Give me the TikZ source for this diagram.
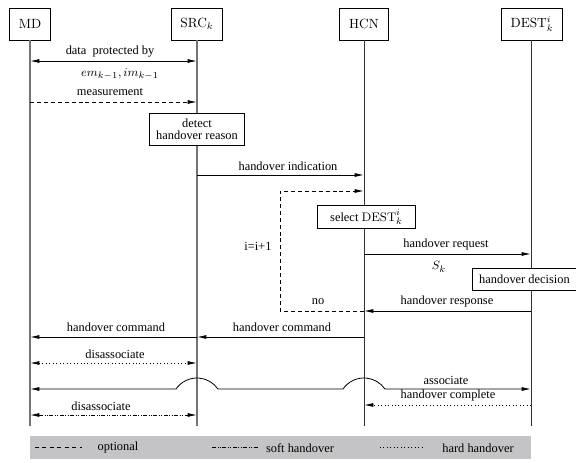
\documentclass[tikz,border=0pt]{standalone}
\usepackage{fontspec}
\newfontfamily\tms{Liberation Serif}
\usetikzlibrary{arrows.meta}
\definecolor{leggray}{RGB}{196,195,198}
\begin{document}
\begin{tikzpicture}[x=0.75pt,y=-0.75pt,
  head/.style={draw, line width=0.6pt, minimum height=24pt, inner xsep=7pt, fill=white, font=\fontsize{10}{12}\selectfont},
  act/.style={draw, line width=0.6pt, font=\tms\fontsize{9.3}{11}\selectfont, align=center, fill=white, inner xsep=5pt},
  lbl/.style={font=\tms\fontsize{9.3}{11}\selectfont, inner sep=1pt},
  life/.style={line width=1pt, black!55},
  msg/.style={line width=0.6pt, -{Latex[length=7pt,width=3pt]}},
  bmsg/.style={line width=0.6pt, {Latex[length=7pt,width=3pt]}-{Latex[length=7pt,width=3pt]}},
  opt/.style={dash pattern=on 3pt off 2.2pt},
  hard/.style={dash pattern=on 0.6pt off 2pt},
  soft/.style={dash pattern=on 3pt off 1.2pt on 0.6pt off 1.2pt on 0.6pt off 1.2pt},
]
\useasboundingbox (0,0) rectangle (576,463);
% heads
\node[head] (md) at (30,24) {MD};
\node[head] (src) at (197,24) {SRC$_k$};
\node[head] (hcn) at (364,24) {HCN};
\node[head] (dest) at (532,24) {DEST$^i_k$};
\coordinate (mdE) at (30,426);
\coordinate (srcE) at (197,426);
\coordinate (hcnE) at (364,426);
\coordinate (destE) at (531,426);
\draw[life] (md) -- (mdE);
\draw[life] (src) -- (srcE);
\draw[life, black!80, line width=0.7pt] (hcn) -- (hcnE);
\draw[life, black!80, line width=0.7pt] (dest.south -| destE) -- (destE);

% data protected
\coordinate (a1) at (30,61); \coordinate (b1) at (197,61);
\draw[bmsg] (a1) -- (b1);
\node[lbl] (t1) at (110,52) {data\ \ protected by};
\node[lbl] (t1b) at (120,74) {$em_{k-1}, im_{k-1}$};

% measurement
\coordinate (a2) at (30,102); \coordinate (b2) at (197,102);
\draw[msg, opt] (a2) -- (b2);
\node[lbl] (t2) at (110,92) {measurement};

% detect
\node[act, minimum width=70.5pt, minimum height=24pt] (det) at (197,129) {detect\\[-2pt]handover reason};

% handover indication
\coordinate (b3) at (197,175); \coordinate (c3) at (364,175);
\draw[msg] (b3) -- (c3);
\node[lbl] (t3) at (288,166) {handover indication};

% select
\node[act, minimum width=74pt, minimum height=16.5pt] (sel) at (366.5,217) {select $\mathrm{DEST}^i_k$};

% handover request
\coordinate (c4) at (364,254); \coordinate (d4) at (531,254);
\draw[msg] (c4) -- (d4);
\node[lbl] (t4) at (446,245) {handover request};
\node[lbl] (t4b) at (439,267) {$S_k$};

% handover decision
\node[act, minimum width=76pt, minimum height=16pt] (dec) at (524.5,279.5) {handover decision};

% handover response
\coordinate (d5) at (531,311); \coordinate (c5) at (364,311);
\draw[msg] (d5) -- (c5);
\node[lbl] (t5) at (447,302) {handover response};

% loop
\coordinate (l1) at (280,311); \coordinate (l2) at (280,191); \coordinate (c6) at (364,191);
\draw[msg, opt] (c5) -- (l1) -- (l2) -- (c6);
\node[lbl] (tno) at (318,302) {no};
\node[lbl] (tii) at (258,246) {i=i+1};

% handover command
\coordinate (c7) at (364,337); \coordinate (b7) at (197,337); \coordinate (a7) at (30,337);
\draw[msg] (c7) -- (b7);
\draw[msg] (b7) -- (a7);
\node[lbl] (t7a) at (116,327) {handover command};
\node[lbl] (t7b) at (282,327) {handover command};

% disassociate (hard)
\coordinate (a8) at (30,363); \coordinate (b8) at (197,363);
\draw[bmsg, hard] (a8) -- (b8);
\node[lbl] (t8) at (115,354) {disassociate};

% associate with jumps
\coordinate (a9) at (30,389); \coordinate (d9) at (531,389);
\coordinate (j1) at (176,389); \coordinate (j2) at (343,389);
\draw[bmsg] (a9) -- (j1) arc[start angle=214.65, end angle=325.35, radius=25.5]
  -- (j2) arc[start angle=214.65, end angle=325.35, radius=25.5] -- (d9);
\node[lbl] (t9) at (446,380) {associate};

% handover complete
\coordinate (d10) at (531,405); \coordinate (c10) at (364,405);
\draw[msg, hard] (d10) -- (c10);
\node[lbl] (t10) at (448,396) {handover complete};

% disassociate (soft)
\coordinate (a11) at (30,415); \coordinate (b11) at (197,415);
\draw[bmsg, soft] (a11) -- (b11);
\node[lbl] (t11) at (101,406) {disassociate};

% legend
\fill[leggray] (30,436) rectangle (531,459);
\coordinate (g1a) at (35,447); \coordinate (g1b) at (82,447);
\draw[line width=0.6pt, dash pattern=on 3pt off 2.6pt] (g1a) -- (g1b);
\node[lbl] (g1) at (118,448) {optional};
\coordinate (g2a) at (212,447); \coordinate (g2b) at (258,447);
\draw[line width=0.6pt, soft] (g2a) -- (g2b);
\node[lbl] (g2) at (300,448) {soft handover};
\coordinate (g3a) at (380,447); \coordinate (g3b) at (424,447);
\draw[line width=0.6pt, hard] (g3a) -- (g3b);
\node[lbl] (g3) at (478,448) {hard handover};
\end{tikzpicture}
\end{document}
